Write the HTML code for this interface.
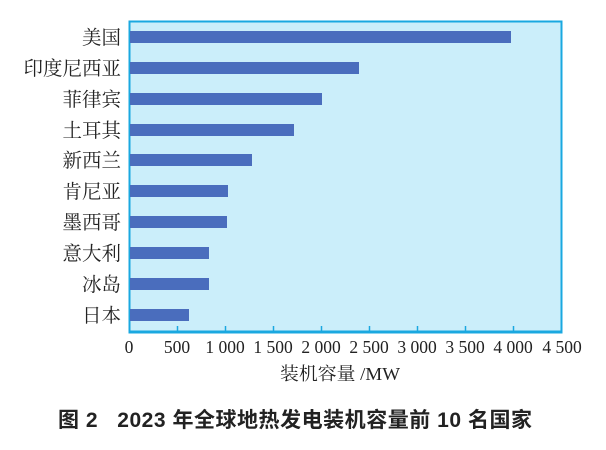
<!DOCTYPE html>
<html><head><meta charset="utf-8"><style>
body{margin:0;background:#fff;width:606px;height:445px;overflow:hidden}
</style></head><body>
<svg width="606" height="445" xmlns="http://www.w3.org/2000/svg">
<rect x="129.5" y="21.5" width="432" height="310" fill="#cbeefa" stroke="#1aa8e0" stroke-width="2"/>
<line x1="128.5" y1="332" x2="562.5" y2="332" stroke="#1aa8e0" stroke-width="3"/>
<g stroke="#1aa8e0" stroke-width="1.5">
<line x1="177.5" y1="326" x2="177.5" y2="331"/><line x1="225.5" y1="326" x2="225.5" y2="331"/>
<line x1="273.5" y1="326" x2="273.5" y2="331"/><line x1="321.5" y1="326" x2="321.5" y2="331"/>
<line x1="369.5" y1="326" x2="369.5" y2="331"/><line x1="417.5" y1="326" x2="417.5" y2="331"/>
<line x1="465.5" y1="326" x2="465.5" y2="331"/><line x1="513.5" y1="326" x2="513.5" y2="331"/>
</g>
<g fill="#4a6dbd">
<rect x="130" y="31" width="381" height="12"/>
<rect x="130" y="62" width="229" height="12"/>
<rect x="130" y="93" width="192" height="12"/>
<rect x="130" y="124" width="164" height="12"/>
<rect x="130" y="154" width="122" height="12"/>
<rect x="130" y="185" width="98" height="12"/>
<rect x="130" y="216" width="97" height="12"/>
<rect x="130" y="247" width="79" height="12"/>
<rect x="130" y="278" width="79" height="12"/>
<rect x="130" y="309" width="59" height="12"/>
</g>
<g font-family="'Liberation Serif','Noto Serif CJK SC',serif" font-size="19.5" fill="#222" text-anchor="end">
<text x="121" y="44">美国</text><text x="121" y="75">印度尼西亚</text><text x="121" y="106">菲律宾</text>
<text x="121" y="137">土耳其</text><text x="121" y="167">新西兰</text><text x="121" y="198">肯尼亚</text>
<text x="121" y="229">墨西哥</text><text x="121" y="260">意大利</text><text x="121" y="291">冰岛</text>
<text x="121" y="322">日本</text>
</g>
<g font-family="'Liberation Serif',serif" font-size="17.5" fill="#222" text-anchor="middle">
<text x="129" y="353">0</text><text x="177" y="353">500</text><text x="225" y="353">1 000</text>
<text x="273" y="353">1 500</text><text x="321" y="353">2 000</text><text x="369" y="353">2 500</text>
<text x="417" y="353">3 000</text><text x="465" y="353">3 500</text><text x="513" y="353">4 000</text>
<text x="562" y="353">4 500</text>
</g>
<text x="280" y="380" textLength="120" lengthAdjust="spacingAndGlyphs" font-family="'Liberation Serif','Noto Serif CJK SC',serif" font-size="18" fill="#222">装机容量 /MW</text>
<text x="58" y="427" textLength="474" lengthAdjust="spacing" font-family="'Liberation Sans','Noto Sans CJK SC',sans-serif" font-size="21" font-weight="bold" fill="#222" xml:space="preserve">图 2   2023 年全球地热发电装机容量前 10 名国家</text>
</svg>
</body></html>
